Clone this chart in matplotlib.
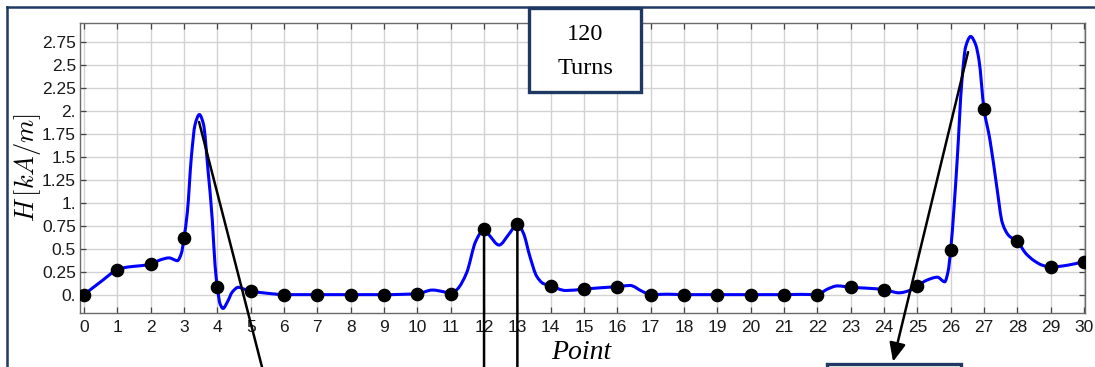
import numpy as np
import matplotlib
matplotlib.use("Agg")
import matplotlib.pyplot as plt
from matplotlib.path import Path
from matplotlib.patches import PathPatch, Rectangle
from matplotlib.lines import Line2D

# Measured field at the 31 probe points
points = list(range(31))
h_points = [0.00, 0.27, 0.33, 0.62, 0.08, 0.04, 0.00, 0.00, 0.00, 0.00,
            0.01, 0.01, 0.71, 0.77, 0.095, 0.06, 0.087, 0.00, 0.00, 0.00,
            0.00, 0.00, 0.00, 0.08, 0.055, 0.095, 0.49, 2.02, 0.58, 0.30, 0.36]

# Field profile along the path (knots of the continuous curve)
curve_x = [0.0, 0.5, 1.0, 1.3, 1.7, 2.0, 2.3, 2.55, 2.8, 2.92, 3.0, 3.1, 3.22,
           3.33, 3.46, 3.58, 3.72, 3.85, 3.93, 4.0, 4.08, 4.17, 4.3, 4.45,
           4.63, 4.8, 5.0, 5.5, 6.0, 7.0, 8.0, 9.0, 10.0, 10.45, 10.8, 11.0,
           11.2, 11.48, 11.75, 12.0, 12.15, 12.45, 12.75, 13.0, 13.18, 13.38,
           13.58, 13.78, 14.0, 14.45, 15.0, 15.5, 16.0, 16.38, 16.75, 17.0,
           17.5, 18.0, 19.0, 20.0, 21.0, 21.5, 22.0, 22.3, 22.6, 23.0, 23.5,
           24.0, 24.45, 24.8, 25.0, 25.3, 25.6, 25.82, 25.92, 26.0, 26.1,
           26.2, 26.33, 26.45, 26.6, 26.75, 26.85, 27.0, 27.18, 27.38, 27.55,
           27.75, 28.0, 28.25, 28.5, 28.75, 29.0, 29.5, 30.0]
curve_y = [0.0, 0.14, 0.27, 0.30, 0.315, 0.33, 0.38, 0.40, 0.37, 0.45, 0.62,
           0.9, 1.5, 1.85, 1.96, 1.86, 1.35, 0.8, 0.32, 0.08, -0.10, -0.15,
           -0.08, 0.03, 0.08, 0.06, 0.04, 0.015, 0.0, 0.0, 0.0, 0.0, 0.01,
           0.05, 0.03, 0.01, 0.06, 0.24, 0.58, 0.71, 0.65, 0.54, 0.66, 0.77,
           0.67, 0.41, 0.20, 0.12, 0.095, 0.045, 0.06, 0.075, 0.087, 0.10,
           0.035, 0.0, 0.005, 0.0, 0.0, 0.0, 0.0, 0.003, 0.0, 0.06, 0.095,
           0.08, 0.07, 0.055, 0.02, 0.05, 0.095, 0.16, 0.19, 0.14, 0.25, 0.49,
           0.95, 1.5, 2.3, 2.7, 2.81, 2.72, 2.55, 2.02, 1.68, 1.18, 0.78, 0.64,
           0.58, 0.45, 0.37, 0.32, 0.30, 0.32, 0.36]

x_ticks = list(range(31))
y_ticks = [0, 0.25, 0.5, 0.75, 1.0, 1.25, 1.5, 1.75, 2.0, 2.25, 2.5, 2.75]
y_tick_labels = ["0.", "0.25", "0.5", "0.75", "1.", "1.25", "1.5", "1.75",
                 "2.", "2.25", "2.5", "2.75"]

NAVY = "#1F3864"
BLUE = "#0000FF"
GRID = "#d2d2d2"
FRAME = "#6a6a6a"


def smooth_path(xs, ys):
    """Cubic Bezier path through the knots with shape-preserving tangents."""
    x = np.asarray(xs, float)
    y = np.asarray(ys, float)
    h = np.diff(x)
    d = np.diff(y) / h
    m = np.zeros_like(y)
    for i in range(1, len(y) - 1):
        if d[i - 1] * d[i] > 0:
            w1 = 2 * h[i] + h[i - 1]
            w2 = h[i] + 2 * h[i - 1]
            m[i] = (w1 + w2) / (w1 / d[i - 1] + w2 / d[i])
    m[0] = d[0]
    m[-1] = d[-1]
    verts = [(x[0], y[0])]
    codes = [Path.MOVETO]
    for i in range(len(x) - 1):
        verts += [(x[i] + h[i] / 3, y[i] + m[i] * h[i] / 3),
                  (x[i + 1] - h[i] / 3, y[i + 1] - m[i + 1] * h[i] / 3),
                  (x[i + 1], y[i + 1])]
        codes += [Path.CURVE4] * 3
    return Path(verts, codes)


fig = plt.figure(figsize=(10.95, 3.67), dpi=100)
ax = fig.add_axes([0.0731, 0.1471, 0.9178, 0.7910])

ax.set_xlim(-0.12, 30.03)
ax.set_ylim(-0.2, 2.96)

ax.set_xticks(x_ticks)
ax.set_xticklabels([str(t) for t in x_ticks])
ax.set_yticks(y_ticks)
ax.set_yticklabels(y_tick_labels)
ax.grid(True, color=GRID, lw=1.0, zorder=0)
ax.set_axisbelow(True)

for sp in ax.spines.values():
    sp.set_color(FRAME)
    sp.set_linewidth(1.0)
ax.tick_params(which="both", direction="in", length=4, width=0.9,
               color="#444444", top=True, right=True,
               labelsize=12.5, labelcolor="#1a1a1a")
ax.tick_params(axis="x", pad=5)
ax.tick_params(axis="y", pad=3)
for lab in ax.get_xticklabels() + ax.get_yticklabels():
    lab.set_fontfamily("Liberation Sans")

# Continuous field curve and the sampled points
ax.add_patch(PathPatch(smooth_path(curve_x, curve_y), fill=False,
                       edgecolor=BLUE, lw=2.2, zorder=3))
ax.plot(points, h_points, "o", color="black", ms=8.8, zorder=4)

plt.rcParams["mathtext.fontset"] = "cm"
fig.text(0.0247, 0.545, r"$H\,[kA/m]$", rotation=90, fontsize=19,
         ha="center", va="center")
fig.text(0.531, 0.04, "Point", fontsize=20, style="italic",
         family="Liberation Serif", ha="center", va="center")

# Leader lines toward the callouts below the chart
line_kw = dict(color="black", lw=1.8)
ax.annotate("", xy=(5.34, -0.79), xytext=(3.45, 1.88),
            arrowprops=dict(arrowstyle="-", shrinkA=0, shrinkB=0, **line_kw),
            annotation_clip=False, zorder=5)
ax.annotate("", xy=(12, -0.79), xytext=(12, h_points[12]),
            arrowprops=dict(arrowstyle="-", shrinkA=0, shrinkB=0, **line_kw),
            annotation_clip=False, zorder=5)
ax.annotate("", xy=(13, -0.79), xytext=(13, h_points[13]),
            arrowprops=dict(arrowstyle="-", shrinkA=0, shrinkB=0, **line_kw),
            annotation_clip=False, zorder=5)
ax.annotate("", xy=(24.27, -0.73), xytext=(26.52, 2.64),
            arrowprops=dict(arrowstyle="-|>,head_length=0.8,head_width=0.35",
                            mutation_scale=14, shrinkA=0, shrinkB=0,
                            facecolor="black", **line_kw),
            annotation_clip=False, zorder=5)

# Outer frame of the panel
W, H = 1095.0, 367.0
fig.add_artist(Line2D([7 / W, 7 / W], [0, 1 - 7 / H], color=NAVY, lw=1.8,
                      transform=fig.transFigure))
fig.add_artist(Line2D([7 / W, 1], [1 - 7 / H, 1 - 7 / H], color=NAVY, lw=1.8,
                      transform=fig.transFigure))

# Label box
fig.add_artist(Rectangle((529 / W, 1 - 92 / H), 112 / W, 84 / H,
                         transform=fig.transFigure, facecolor="white",
                         edgecolor=NAVY, lw=2.4, zorder=6))
fig.text(585 / W, 1 - 35 / H, "120", fontsize=17.5, family="Liberation Serif",
         ha="center", va="center", zorder=7)
fig.text(585 / W, 1 - 68 / H, "Turns", fontsize=17.5, family="Liberation Serif",
         ha="center", va="center", zorder=7)

# Callout box below the chart
fig.add_artist(Rectangle((827 / W, -0.1), 134 / W, 0.1 + 3.5 / H,
                         transform=fig.transFigure, facecolor="white",
                         edgecolor=NAVY, lw=2.4, zorder=6))

fig.savefig("out.png", dpi=100)
